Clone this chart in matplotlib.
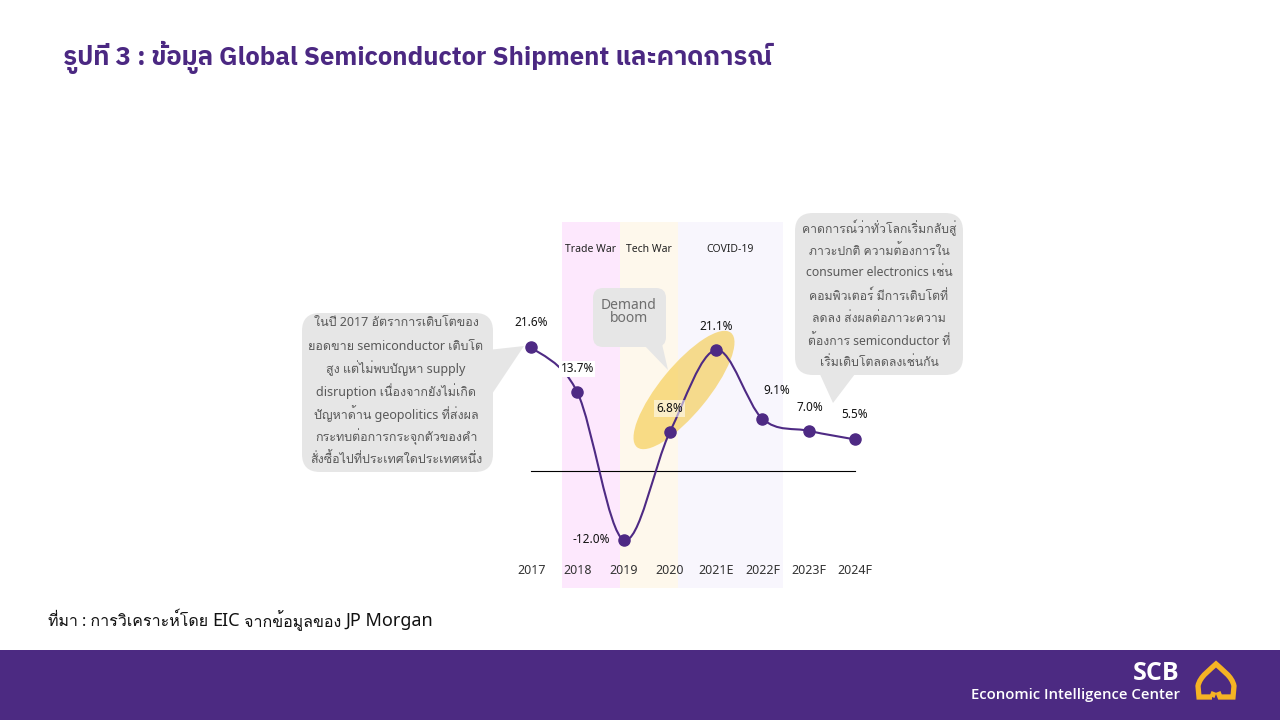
import matplotlib
matplotlib.use('Agg')
import matplotlib.pyplot as plt
from matplotlib.patches import FancyBboxPatch, Polygon, Ellipse, Rectangle, PathPatch
from matplotlib.path import Path
import numpy as np

# ---------------- data ----------------
years = ['2017', '2018', '2019', '2020', '2021E', '2022F', '2023F', '2024F']
growth = [21.6, 13.7, -12.0, 6.8, 21.1, 9.1, 7.0, 5.5]
value_labels = [f"{v:.1f}%" for v in growth]
periods = ['Trade War', 'Tech War', 'COVID-19']
period_start = [0.67, 1.92, 3.17]
period_end = [1.92, 3.17, 5.44]

title = "รูปที่ 3 : ข้อมูล Global Semiconductor Shipment และคาดการณ์"
left_note = ["ในปี 2017 อัตราการเติบโตของ",
             "ยอดขาย semiconductor เติบโต",
             "สูง แต่ไม่พบปัญหา supply",
             "disruption เนื่องจากยังไม่เกิด",
             "ปัญหาด้าน geopolitics ที่ส่งผล",
             "กระทบต่อการกระจุกตัวของคำ",
             "สั่งซื้อไปที่ประเทศใดประเทศหนึ่ง"]
right_note = ["คาดการณ์ว่าทั่วโลกเริ่มกลับสู่",
              "ภาวะปกติ ความต้องการใน",
              "consumer electronics เช่น",
              "คอมพิวเตอร์ มีการเติบโตที่",
              "ลดลง ส่งผลต่อภาวะความ",
              "ต้องการ semiconductor ที่",
              "เริ่มเติบโตลดลงเช่นกัน"]
source_parts = ["ที่มา : การวิเคราะห์โดย ", "EIC", " จากข้อมูลของ ", "JP Morgan"]

# ---------------- fonts ----------------
THAI_BODY = ['Noto Sans', 'Loma', 'DejaVu Sans']
THAI_TITLE = ['IBM Plex Sans Thai', 'Noto Sans Thai', 'DejaVu Sans']
LATIN = ['Noto Sans', 'DejaVu Sans']
FOOT = ['Open Sans', 'Noto Sans', 'DejaVu Sans']
plt.rcParams['font.family'] = LATIN

purple = '#4E2A84'
gray_box = '#E6E6E6'
gray_txt = '#595959'
W, H = 1280, 720

fig = plt.figure(figsize=(12.8, 7.2), dpi=100)
fig.patch.set_facecolor('white')

def rect(x0, y0, x1, y1):
    return [x0 / W, 1 - y1 / H, (x1 - x0) / W, (y1 - y0) / H]

# ---------------- overlay axes (pixel coords) ----------------
ov = fig.add_axes([0, 0, 1, 1], zorder=2)
ov.set_facecolor('none')
ov.set_xlim(0, W)
ov.set_ylim(H, 0)
ov.axis('off')

# ---------------- chart axes ----------------
ax = fig.add_axes(rect(508, 222, 878, 588), zorder=1)
ax.set_facecolor('none')
n = len(growth)
x = np.arange(n)
ax.set_xlim(-0.5, n - 0.5)
ax.set_ylim(-20.4, 43.4)
for s in ax.spines.values():
    s.set_visible(False)
ax.set_yticks([])
ax.set_xticks(x)
ax.set_xticklabels(years, fontsize=9, color='#333333')
ax.tick_params(axis='x', length=0, pad=-17)

band_colors = ['#FDE8FD', '#FEF8EC', '#F8F6FD']
for s0, s1, c, name in zip(period_start, period_end, band_colors, periods):
    ax.axvspan(s0, s1, color=c, zorder=0, lw=0)
    ax.text((s0 + s1) / 2, 0.926, name, transform=ax.get_xaxis_transform(),
            ha='center', va='center', fontsize=7.5, color='#222222')

ax.plot([0, n - 1], [0, 0], color='black', lw=0.8, zorder=1)

# highlight ellipse (pixel geometry), under the line
ax.add_patch(Ellipse((684, 390), 148, 48, angle=-50.6, fc='#F4C430', ec='none',
                     alpha=0.55, transform=ov.transData, zorder=1.5))

pts = np.column_stack([x, growth]).astype(float)
verts = [pts[0]]
codes = [Path.MOVETO]
for i in range(n - 1):
    p0 = pts[max(i - 1, 0)]
    p1 = pts[i]
    p2 = pts[i + 1]
    p3 = pts[min(i + 2, n - 1)]
    verts += [p1 + (p2 - p0) / 6, p2 - (p3 - p1) / 6, p2]
    codes += [Path.CURVE4] * 3
ax.add_patch(PathPatch(Path(verts, codes), fill=False, ec=purple, lw=1.5, zorder=2))
ax.plot(x, growth, 'o', ms=8, color=purple, zorder=3)

# ---------------- callouts ----------------
def callout(x0, y0, x1, y1, r, tail):
    ov.add_patch(FancyBboxPatch((x0, y0), x1 - x0, y1 - y0,
                                boxstyle=f'round,pad=0,rounding_size={r}',
                                fc=gray_box, ec='none', zorder=2))
    ov.add_patch(Polygon(tail, closed=True, fc=gray_box, ec='none', zorder=2))

callout(302, 313, 493, 472, 18, [(488, 350), (488, 400), (524, 346)])
callout(795, 213, 963, 375, 18, [(818, 370), (858, 370), (833, 403)])
callout(593, 288, 666, 347, 10, [(643, 344), (662, 344), (668, 370)])

ly = [323, 346, 368, 391, 414, 437, 459]
for t, yy in zip(left_note, ly):
    ov.text(396, yy, t, ha='center', va='center', fontsize=9, color=gray_txt,
            family=THAI_BODY, zorder=3)
ry = [228, 251, 273, 296, 318, 341, 362]
for t, yy in zip(right_note, ry):
    ov.text(879, yy, t, ha='center', va='center', fontsize=8.8, color=gray_txt,
            family=THAI_BODY, zorder=3)
ov.text(629, 312, "Demand\nboom", ha='center', va='center', fontsize=10,
        color='#6E6E6E', linespacing=0.85, zorder=3)

offsets = [(0, 18), (0, 17), (-10, 0), (0, 17), (0, 17), (10, 20), (1, 17), (0, 18)]
for i, (v, lab, off) in enumerate(zip(growth, value_labels, offsets)):
    ha = 'right' if off[0] < -5 else 'center'
    bbox = None
    if i == 1:
        bbox = dict(fc='white', ec='none', pad=1)
    if i == 3:
        bbox = dict(fc='white', ec='none', alpha=0.55, pad=1.5)
    ov.annotate(lab, xy=(i, v), xycoords=ax.transData, xytext=off,
                textcoords='offset points', ha=ha, va='center', fontsize=8.5,
                color='#111111', bbox=bbox, zorder=5)

ov.text(63, 57, title, ha='left', va='center', fontsize=18.5, fontweight='bold',
        color='#4B2882', family=THAI_TITLE, zorder=5)

fig.canvas.draw()
renderer = fig.canvas.get_renderer()
cx = 48
sizes = [11.5, 13, 11.5, 13]
fams = [THAI_BODY, LATIN, THAI_BODY, LATIN]
for part, fs, fm in zip(source_parts, sizes, fams):
    t = ov.text(cx, 621, part, ha='left', va='center', fontsize=fs, color='#111111', family=fm)
    bb = t.get_window_extent(renderer=renderer)
    cx += bb.width

ov.add_patch(Rectangle((0, 650), W, 70, fc='#4C2A82', ec='none', zorder=1))
ov.text(1180, 673, "SCB", ha='right', va='center', fontsize=18, fontweight='bold',
        color='white', family=FOOT, zorder=3)
ov.text(1180, 695, "Economic Intelligence Center", ha='right', va='center', fontsize=10.7,
        fontweight='semibold', color='white', family=FOOT, zorder=3)

logo_verts = [(1212, 697), (1199, 697), (1198, 686),
              (1200, 676), (1210, 670), (1216, 664),
              (1222, 670), (1232, 676), (1234, 686),
              (1233, 697), (1220, 697), (1218, 692)]
logo_codes = [Path.MOVETO, Path.LINETO, Path.LINETO,
              Path.CURVE4, Path.CURVE4, Path.CURVE4,
              Path.CURVE4, Path.CURVE4, Path.CURVE4,
              Path.LINETO, Path.LINETO, Path.LINETO]
ov.add_patch(PathPatch(Path(logo_verts, logo_codes), fill=False, ec='#F5B324', lw=3.8,
                       joinstyle='miter', zorder=3))
ov.plot([1212, 1214], [697, 692], color='#F5B324', lw=3.8, solid_capstyle='butt', zorder=3)

fig.savefig('out.png', dpi=100)
